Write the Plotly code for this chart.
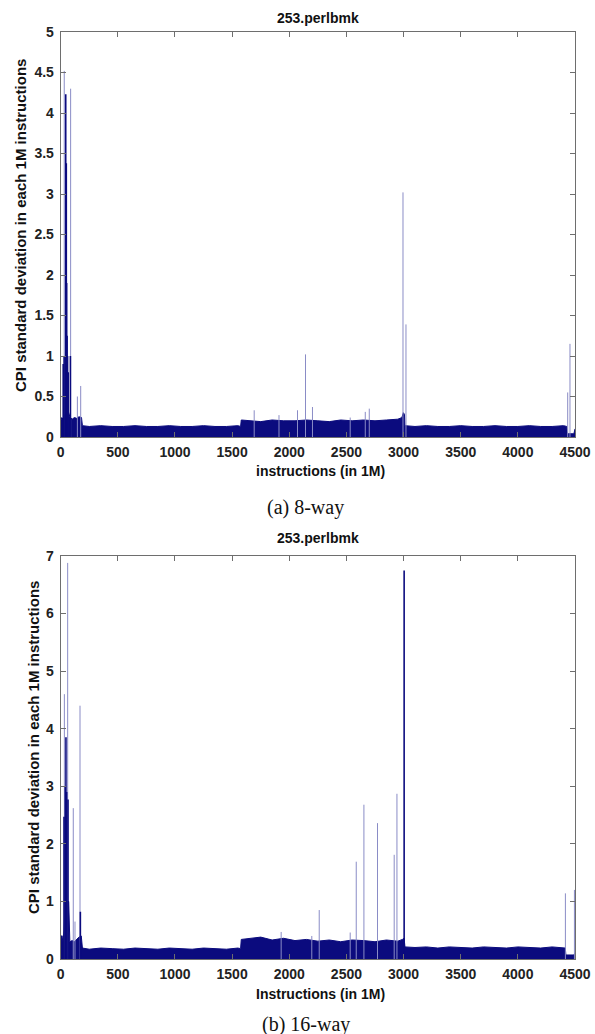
import plotly.graph_objects as go

W, H = 595, 1034

# ---------------- data ----------------
# x positions (in 1M instructions)
x_ticks = [0, 500, 1000, 1500, 2000, 2500, 3000, 3500, 4000, 4500]

# (a) 8-way: upper edge of the dense band
band_a_x = [0, 10, 20, 30, 40, 60, 80, 100, 120, 140, 160, 182, 190, 250, 350, 450, 550, 650, 750,
            850, 950, 1050, 1150, 1250, 1350, 1450, 1550, 1574, 1580, 1650, 1750, 1850, 1950, 2050,
            2150, 2250, 2350, 2450, 2550, 2650, 2750, 2850, 2950, 2985, 2998, 3008, 3012, 3100,
            3200, 3300, 3400, 3500, 3600, 3700, 3800, 3900, 4000, 4100, 4200, 4300, 4400, 4428,
            4432, 4490, 4500]
band_a_y = [0.20, 0.24, 0.22, 0.25, 0.30, 0.35, 0.25, 0.22, 0.24, 0.23, 0.25, 0.24, 0.14, 0.13,
            0.14, 0.13, 0.13, 0.14, 0.13, 0.13, 0.14, 0.13, 0.13, 0.14, 0.13, 0.13, 0.14, 0.13,
            0.21, 0.20, 0.19, 0.21, 0.20, 0.20, 0.21, 0.20, 0.19, 0.21, 0.20, 0.21, 0.20, 0.21,
            0.22, 0.24, 0.30, 0.28, 0.14, 0.13, 0.14, 0.13, 0.13, 0.14, 0.13, 0.13, 0.14, 0.13,
            0.13, 0.14, 0.13, 0.13, 0.14, 0.13, 0.04, 0.04, 0.10]
# (a) dense dark strokes near the start
dark_a_x = [22, 30, 44, 49, 52, 56, 60, 66, 85]
dark_a_y = [0.9, 1.0, 4.23, 3.38, 1.90, 1.25, 1.0, 0.8, 1.0]
# (a) isolated spikes
spike_a_x = [31, 87, 146, 175, 1693, 1910, 2072, 2142, 2203, 2533, 2665, 2700, 2995, 3021, 4436, 4456]
spike_a_y = [4.52, 4.30, 0.50, 0.63, 0.33, 0.27, 0.33, 1.02, 0.37, 0.24, 0.31, 0.35, 3.02, 1.39, 0.55, 1.15]

# (b) 16-way: upper edge of the dense band
band_b_x = [0, 10, 20, 30, 40, 70, 80, 100, 120, 140, 160, 180, 190, 250, 350, 450, 550, 650, 750,
            850, 950, 1050, 1150, 1250, 1350, 1450, 1550, 1574, 1580, 1650, 1750, 1850, 1950, 2050,
            2150, 2250, 2350, 2450, 2550, 2650, 2750, 2850, 2950, 2990, 3005, 3012, 3100, 3200,
            3300, 3400, 3500, 3600, 3700, 3800, 3900, 4000, 4100, 4200, 4300, 4400, 4415, 4420,
            4490, 4500]
band_b_y = [0.25, 0.40, 0.30, 0.50, 1.00, 1.00, 0.30, 0.32, 0.30, 0.35, 0.38, 0.40, 0.19, 0.17,
            0.19, 0.18, 0.17, 0.19, 0.18, 0.17, 0.19, 0.18, 0.17, 0.19, 0.18, 0.17, 0.19, 0.18,
            0.34, 0.36, 0.38, 0.33, 0.36, 0.32, 0.34, 0.31, 0.33, 0.30, 0.33, 0.32, 0.30, 0.33,
            0.31, 0.34, 0.36, 0.21, 0.20, 0.21, 0.19, 0.21, 0.20, 0.19, 0.21, 0.20, 0.19, 0.21,
            0.20, 0.19, 0.21, 0.20, 0.19, 0.07, 0.07, 0.10]
dark_b_x = [9, 29, 40, 46, 52, 64, 172, 3005]
dark_b_y = [0.41, 2.47, 3.0, 3.85, 2.9, 2.77, 0.82, 6.75]
spike_b_x = [32, 61, 110, 125, 169, 1929, 2197, 2262, 2533, 2586, 2653, 2772, 2918, 2942, 4416, 4495]
spike_b_y = [4.60, 6.88, 2.62, 0.65, 4.40, 0.47, 0.40, 0.85, 0.46, 1.69, 2.68, 2.36, 1.81, 2.87, 1.14, 1.20]

# ---------------- styling ----------------
NAVY = "#0b0b7e"
LIGHT = "#8a8cc6"
AXIS = "#6e6e6e"
SANS = "Liberation Sans"
SERIF = "Liberation Serif"


def sticks(xs, ys):
    px, py = [], []
    for x, y in zip(xs, ys):
        px += [x, x, None]
        py += [0, y, None]
    return px, py


fig = go.Figure()


def add_panel(band_x, band_y, dark_x, dark_y, sp_x, sp_y, xa, ya):
    fig.add_trace(go.Scatter(x=band_x, y=band_y, mode="lines", fill="tozeroy",
                             line=dict(color=NAVY, width=1), fillcolor=NAVY,
                             xaxis=xa, yaxis=ya, showlegend=False, hoverinfo="skip"))
    sx, sy = sticks(sp_x, sp_y)
    fig.add_trace(go.Scatter(x=sx, y=sy, mode="lines", line=dict(color=LIGHT, width=1),
                             xaxis=xa, yaxis=ya, showlegend=False, hoverinfo="skip"))
    dx, dy = sticks(dark_x, dark_y)
    fig.add_trace(go.Scatter(x=dx, y=dy, mode="lines", line=dict(color=NAVY, width=1.6),
                             xaxis=xa, yaxis=ya, showlegend=False, hoverinfo="skip"))


add_panel(band_a_x, band_a_y, dark_a_x, dark_a_y, spike_a_x, spike_a_y, "x", "y")
add_panel(band_b_x, band_b_y, dark_b_x, dark_b_y, spike_b_x, spike_b_y, "x2", "y2")


def fx(p):
    return p / W


def fy(p):
    return 1 - p / H


tickfont = dict(family=SANS, size=14, color="#222222", weight="bold")
common_x = dict(range=[0, 4500], tickvals=x_ticks, ticks="inside", ticklen=5, tickcolor=AXIS,
                showline=True, linecolor=AXIS, linewidth=1, mirror="ticks", showgrid=False,
                zeroline=False, tickfont=tickfont, automargin=False,
                domain=[fx(60.7), fx(575)], ticklabelstandoff=2)
common_y = dict(ticks="inside", ticklen=5, tickcolor=AXIS, showline=True, linecolor=AXIS,
                linewidth=1, mirror="ticks", showgrid=False, zeroline=False, tickfont=tickfont,
                automargin=False, ticklabelstandoff=3)

fig.update_layout(
    width=W, height=H, margin=dict(l=0, r=0, t=0, b=0),
    paper_bgcolor="white", plot_bgcolor="white", template="none",
    xaxis=dict(common_x, anchor="y"),
    yaxis=dict(common_y, range=[0, 5], dtick=0.5, domain=[fy(437), fy(32)], anchor="x"),
    xaxis2=dict(common_x, anchor="y2"),
    yaxis2=dict(common_y, range=[0, 7], dtick=1, domain=[fy(959), fy(556)], anchor="x2"),
)

ann = []


def text(s, x, y, size, font=SANS, bold=True, angle=0):
    ann.append(dict(text=s, x=fx(x), y=fy(y), xref="paper", yref="paper", showarrow=False,
                    xanchor="center", yanchor="middle", textangle=angle,
                    font=dict(family=font, size=size, color="#111111",
                              weight="bold" if bold else "normal")))


text("253.perlbmk", 318, 18, 14)
text("253.perlbmk", 318, 538, 14)
text("instructions (in 1M)", 320, 471, 14)
text("Instructions (in 1M)", 320, 994, 14)
text("CPI standard deviation in each 1M instructions", 20, 226, 15, angle=-90)
text("CPI standard deviation in each 1M instructions", 33, 748, 15, angle=-90)
text("(a) 8-way", 306, 507, 20, font=SERIF, bold=False)
text("(b) 16-way", 306, 1024, 20, font=SERIF, bold=False)
fig.update_layout(annotations=ann)

fig.write_html("out.html")
